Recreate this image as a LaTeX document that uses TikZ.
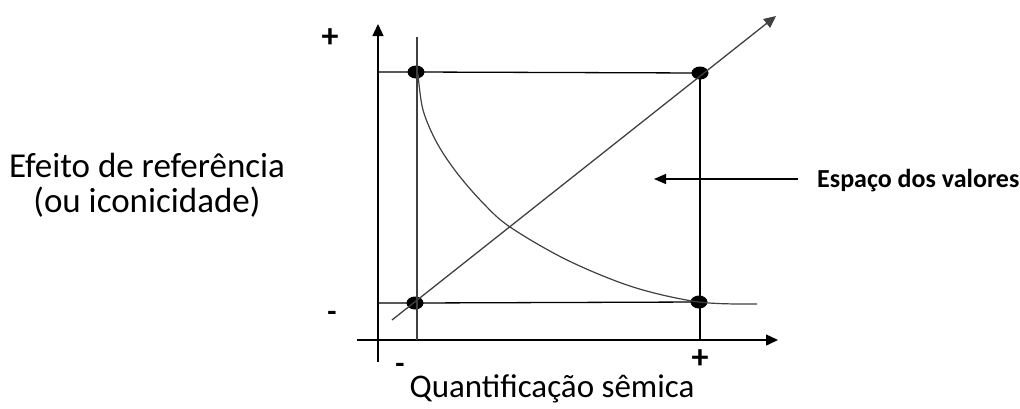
\documentclass[tikz,border=0pt]{standalone}
\usepackage{fontspec}
\setmainfont{Carlito}
\usetikzlibrary{arrows.meta,shapes.geometric}
\begin{document}
\begin{tikzpicture}[x=1pt,y=-1pt,
  axisline/.style={line width=1.4pt,black},
  boxline/.style={line width=1.3pt,black},
  thinline/.style={line width=1.2pt,black!75},
  tip/.style={-{Triangle[length=12pt,width=11pt]}},
  dot/.style={ellipse,fill=black,minimum width=17pt,minimum height=13pt,inner sep=0pt},
  lbl/.style={font=\fontsize{35}{35}\selectfont,align=center,inner sep=0pt},
  sign/.style={font=\fontsize{34}{34}\selectfont\bfseries,inner sep=0pt,anchor=base,text height=0.62em,text depth=0pt},
  minus/.style={font=\fontsize{30}{30}\selectfont\bfseries,inner sep=0pt,anchor=base,text height=0.4em,text depth=0pt}]
\useasboundingbox (0,0) rectangle (1020,408);
% coordinates
\coordinate (yb) at (378,362);
\coordinate (yt) at (378,24);
\coordinate (xl) at (357,340);
\coordinate (xr) at (778,340);
\coordinate (ltop) at (417,37);
\coordinate (lbot) at (417,340);
\coordinate (rbot) at (700,341);
\coordinate (ytop) at (378,72);
\coordinate (ybot) at (378,303);
\coordinate (ds) at (392,320);
\coordinate (de) at (776,16);
\coordinate (ae) at (798,179);
\coordinate (as) at (654,179);
% dots
\node[dot] (tl) at (416,72) {};
\node[dot] (tr) at (700,73) {};
\node[dot] (bl) at (415,303) {};
\node[dot] (br) at (699,302) {};
% axes
\draw[axisline,tip] (yb) -- (yt);
\draw[axisline,tip] (xl) -- (xr);
% box
\draw[boxline] (ytop) -- (tl.center) -- (tr.center);
\draw[boxline] (ybot) -- (bl.center) -- (br.center);
\draw[boxline] (tr.center) -- (rbot);
\draw[thinline] (ltop) -- (lbot);
% diagonal
\draw[thinline,line width=1.3pt,tip] (ds) -- (de);
% curve
\draw[thinline] plot[smooth,tension=0.55] coordinates {(418,74) (423,110) (437,143) (457,173) (483,203) (510,227) (567,260) (633,287) (699,302) (757,304)};
% arrow to label
\draw[boxline,-{Triangle[length=12pt,width=10pt]}] (ae) -- (as);
% labels
\node[lbl] (ylab) at (147,185) {Efeito de referência\\(ou iconicidade)};
\node[font=\fontsize{33}{33}\selectfont,inner sep=0pt,anchor=base] (xlab) at (552,397) {Quantificação sêmica};
\node[font=\fontsize{26}{28}\selectfont\bfseries,anchor=west,inner sep=0pt] (esp) at (817,181) {Espaço dos valores};
\node[sign] (yp) at (330,47) {+};
\node[minus] (ym) at (332,321) {-};
\node[minus] (xm) at (400,373) {-};
\node[sign] (xp) at (700,368) {+};
\end{tikzpicture}
\end{document}
